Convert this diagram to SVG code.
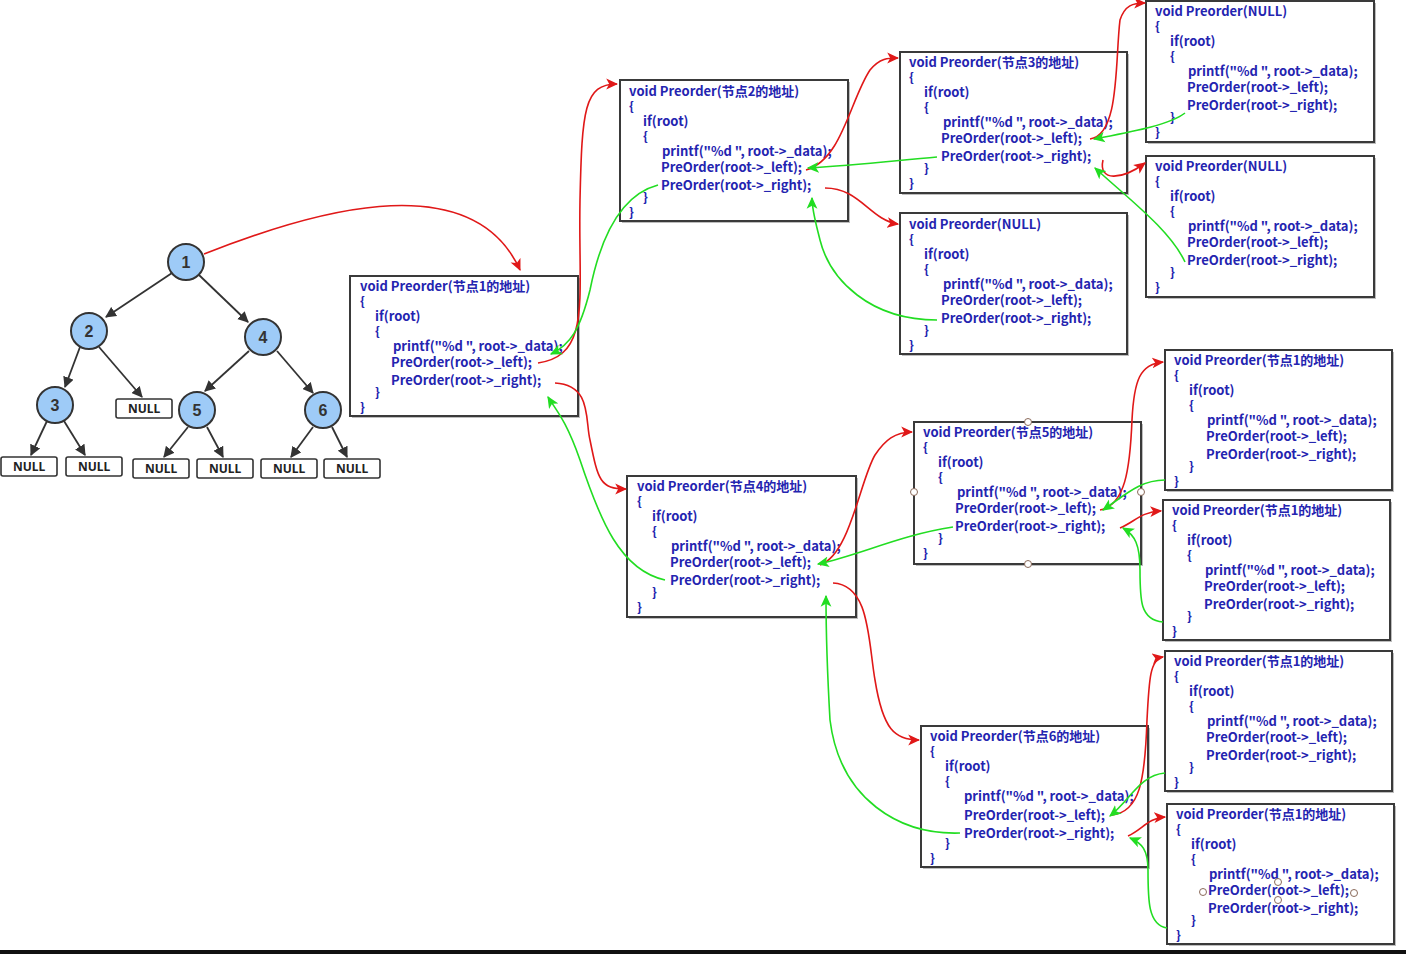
<svg xmlns="http://www.w3.org/2000/svg" width="1406" height="954" viewBox="0 0 1406 954">
<defs>
<style>
.box rect.b{fill:#fff;stroke:#3a3a3a;stroke-width:2}
.box rect.s{fill:#bdbdbd}
.box text{font-family:"Noto Sans CJK SC","Liberation Sans",sans-serif;font-size:13px;font-weight:bold;fill:#2424b0}
.tn circle{fill:#9ecbf7;stroke:#333;stroke-width:2}
.tn text{font-family:"Liberation Sans","Noto Sans",sans-serif;font-size:16px;font-weight:bold;fill:#333;text-anchor:middle}
.nl rect{fill:#fff;stroke:#333;stroke-width:1.6}
.nl text{font-family:"Noto Sans","Liberation Sans",sans-serif;font-size:12px;font-weight:bold;fill:#222;text-anchor:middle}
.te{stroke:#333;stroke-width:1.8;fill:none;marker-end:url(#ad)}
.r{stroke:#e01818;stroke-width:1.6;fill:none;marker-end:url(#ar)}
.g{stroke:#22dd22;stroke-width:1.6;fill:none;marker-end:url(#ag)}
.h{fill:#fff;stroke:#8a6a5a;stroke-width:1}
</style>
<marker id="ad" viewBox="0 0 10 10" refX="9" refY="5" markerWidth="11" markerHeight="11" markerUnits="userSpaceOnUse" orient="auto"><path d="M0,0 L10,5 L0,10 z" fill="#333"/></marker>
<marker id="ar" viewBox="0 0 10 10" refX="9" refY="5" markerWidth="12" markerHeight="12" markerUnits="userSpaceOnUse" orient="auto"><path d="M0,0.5 L10,5 L0,9.5 L2.5,5 z" fill="#e01818"/></marker>
<marker id="ag" viewBox="0 0 10 10" refX="9" refY="5" markerWidth="12" markerHeight="12" markerUnits="userSpaceOnUse" orient="auto"><path d="M0,0.5 L10,5 L0,9.5 L2.5,5 z" fill="#22dd22"/></marker>
</defs>
<rect width="1406" height="954" fill="#fff"/>

<!-- tree -->
<g id="tree-edges">
<line class="te" x1="172" y1="273" x2="106" y2="317"/>
<line class="te" x1="199" y1="275" x2="248" y2="322"/>
<line class="te" x1="80" y1="347" x2="65" y2="387"/>
<line class="te" x1="99" y1="347" x2="142" y2="397"/>
<line class="te" x1="249" y1="351" x2="205" y2="391"/>
<line class="te" x1="277" y1="351" x2="313" y2="393"/>
<line class="te" x1="47" y1="421" x2="31" y2="455"/>
<line class="te" x1="64" y1="421" x2="85" y2="455"/>
<line class="te" x1="188" y1="427" x2="164" y2="457"/>
<line class="te" x1="207" y1="427" x2="223" y2="457"/>
<line class="te" x1="313" y1="427" x2="291" y2="457"/>
<line class="te" x1="332" y1="427" x2="347" y2="457"/>
</g>
<g id="n1" class="tn"><circle cx="186" cy="262" r="18"/><text x="186" y="268">1</text></g>
<g id="n2" class="tn"><circle cx="89" cy="331" r="18"/><text x="89" y="337">2</text></g>
<g id="n4" class="tn"><circle cx="263" cy="337" r="18"/><text x="263" y="343">4</text></g>
<g id="n3" class="tn"><circle cx="55" cy="405" r="18"/><text x="55" y="411">3</text></g>
<g id="n5" class="tn"><circle cx="197" cy="410" r="18"/><text x="197" y="416">5</text></g>
<g id="n6" class="tn"><circle cx="323" cy="410" r="18"/><text x="323" y="416">6</text></g>
<g id="null2r" class="nl"><rect x="116" y="399" width="56" height="19" rx="2"/><text x="144" y="413">NULL</text></g>
<g id="null3l" class="nl"><rect x="1" y="457" width="56" height="19" rx="2"/><text x="29" y="471">NULL</text></g>
<g id="null3r" class="nl"><rect x="66" y="457" width="56" height="19" rx="2"/><text x="94" y="471">NULL</text></g>
<g id="null5l" class="nl"><rect x="133" y="459" width="56" height="19" rx="2"/><text x="161" y="473">NULL</text></g>
<g id="null5r" class="nl"><rect x="197" y="459" width="56" height="19" rx="2"/><text x="225" y="473">NULL</text></g>
<g id="null6l" class="nl"><rect x="261" y="459" width="56" height="19" rx="2"/><text x="289" y="473">NULL</text></g>
<g id="null6r" class="nl"><rect x="324" y="459" width="56" height="19" rx="2"/><text x="352" y="473">NULL</text></g>

<!-- code boxes -->
<g id="box1" class="box" transform="translate(350,276)">
<rect class="s" x="2" y="2" width="228" height="140"/><rect class="b" width="228" height="140"/>
<text x="10" y="15">void Preorder(节点1的地址)</text><text x="10" y="30">{</text><text x="25" y="45">if(root)</text><text x="25" y="60">{</text>
<text x="43" y="75">printf("%d ", root-&gt;_data);</text><text x="41" y="91">PreOrder(root-&gt;_left);</text><text x="41" y="109">PreOrder(root-&gt;_right);</text><text x="25" y="121">}</text><text x="10" y="136">}</text>
</g>
<g id="box2" class="box" transform="translate(620,80)">
<rect class="s" x="2" y="2" width="228" height="141"/><rect class="b" width="228" height="141"/>
<text x="9" y="16">void Preorder(节点2的地址)</text><text x="9" y="31">{</text><text x="23" y="46">if(root)</text><text x="23" y="61">{</text>
<text x="42" y="76">printf("%d ", root-&gt;_data);</text><text x="41" y="92">PreOrder(root-&gt;_left);</text><text x="41" y="110">PreOrder(root-&gt;_right);</text><text x="23" y="122">}</text><text x="9" y="137">}</text>
</g>
<g id="box3" class="box" transform="translate(900,52)">
<rect class="s" x="2" y="2" width="227" height="141"/><rect class="b" width="227" height="141"/>
<text x="9" y="15">void Preorder(节点3的地址)</text><text x="9" y="30">{</text><text x="24" y="45">if(root)</text><text x="24" y="60">{</text>
<text x="43" y="75">printf("%d ", root-&gt;_data);</text><text x="41" y="91">PreOrder(root-&gt;_left);</text><text x="41" y="109">PreOrder(root-&gt;_right);</text><text x="24" y="121">}</text><text x="9" y="136">}</text>
</g>
<g id="boxN1" class="box" transform="translate(1146,1)">
<rect class="s" x="2" y="2" width="228" height="141"/><rect class="b" width="228" height="141"/>
<text x="9" y="15">void Preorder(NULL)</text><text x="9" y="30">{</text><text x="24" y="45">if(root)</text><text x="24" y="60">{</text>
<text x="42" y="75">printf("%d ", root-&gt;_data);</text><text x="41" y="91">PreOrder(root-&gt;_left);</text><text x="41" y="109">PreOrder(root-&gt;_right);</text><text x="24" y="121">}</text><text x="9" y="136">}</text>
</g>
<g id="boxN2" class="box" transform="translate(1146,156)">
<rect class="s" x="2" y="2" width="228" height="141"/><rect class="b" width="228" height="141"/>
<text x="9" y="15">void Preorder(NULL)</text><text x="9" y="30">{</text><text x="24" y="45">if(root)</text><text x="24" y="60">{</text>
<text x="42" y="75">printf("%d ", root-&gt;_data);</text><text x="41" y="91">PreOrder(root-&gt;_left);</text><text x="41" y="109">PreOrder(root-&gt;_right);</text><text x="24" y="121">}</text><text x="9" y="136">}</text>
</g>
<g id="boxN3" class="box" transform="translate(900,213)">
<rect class="s" x="2" y="2" width="227" height="141"/><rect class="b" width="227" height="141"/>
<text x="9" y="16">void Preorder(NULL)</text><text x="9" y="31">{</text><text x="24" y="46">if(root)</text><text x="24" y="61">{</text>
<text x="43" y="76">printf("%d ", root-&gt;_data);</text><text x="41" y="92">PreOrder(root-&gt;_left);</text><text x="41" y="110">PreOrder(root-&gt;_right);</text><text x="24" y="122">}</text><text x="9" y="137">}</text>
</g>
<g id="box4" class="box" transform="translate(627,476)">
<rect class="s" x="2" y="2" width="229" height="141"/><rect class="b" width="229" height="141"/>
<text x="10" y="15">void Preorder(节点4的地址)</text><text x="10" y="30">{</text><text x="25" y="45">if(root)</text><text x="25" y="60">{</text>
<text x="44" y="75">printf("%d ", root-&gt;_data);</text><text x="43" y="91">PreOrder(root-&gt;_left);</text><text x="43" y="109">PreOrder(root-&gt;_right);</text><text x="25" y="121">}</text><text x="10" y="136">}</text>
</g>
<g id="box5" class="box" transform="translate(914,422)">
<rect class="s" x="2" y="2" width="227" height="142"/><rect class="b" width="227" height="142"/>
<text x="9" y="15">void Preorder(节点5的地址)</text><text x="9" y="30">{</text><text x="24" y="45">if(root)</text><text x="24" y="60">{</text>
<text x="43" y="75">printf("%d ", root-&gt;_data);</text><text x="41" y="91">PreOrder(root-&gt;_left);</text><text x="41" y="109">PreOrder(root-&gt;_right);</text><text x="24" y="121">}</text><text x="9" y="136">}</text>
</g>
<g id="box51" class="box" transform="translate(1165,350)">
<rect class="s" x="2" y="2" width="227" height="140"/><rect class="b" width="227" height="140"/>
<text x="9" y="15">void Preorder(节点1的地址)</text><text x="9" y="30">{</text><text x="24" y="45">if(root)</text><text x="24" y="60">{</text>
<text x="42" y="75">printf("%d ", root-&gt;_data);</text><text x="41" y="91">PreOrder(root-&gt;_left);</text><text x="41" y="109">PreOrder(root-&gt;_right);</text><text x="24" y="121">}</text><text x="9" y="136">}</text>
</g>
<g id="box52" class="box" transform="translate(1163,500)">
<rect class="s" x="2" y="2" width="227" height="140"/><rect class="b" width="227" height="140"/>
<text x="9" y="15">void Preorder(节点1的地址)</text><text x="9" y="30">{</text><text x="24" y="45">if(root)</text><text x="24" y="60">{</text>
<text x="42" y="75">printf("%d ", root-&gt;_data);</text><text x="41" y="91">PreOrder(root-&gt;_left);</text><text x="41" y="109">PreOrder(root-&gt;_right);</text><text x="24" y="121">}</text><text x="9" y="136">}</text>
</g>
<g id="box6" class="box" transform="translate(921,726)">
<rect class="s" x="2" y="2" width="227" height="141"/><rect class="b" width="227" height="141"/>
<text x="9" y="15">void Preorder(节点6的地址)</text><text x="9" y="30">{</text><text x="24" y="45">if(root)</text><text x="24" y="60">{</text>
<text x="43" y="75">printf("%d ", root-&gt;_data);</text><text x="43" y="94">PreOrder(root-&gt;_left);</text><text x="43" y="112">PreOrder(root-&gt;_right);</text><text x="24" y="122">}</text><text x="9" y="137">}</text>
</g>
<g id="box61" class="box" transform="translate(1165,651)">
<rect class="s" x="2" y="2" width="227" height="140"/><rect class="b" width="227" height="140"/>
<text x="9" y="15">void Preorder(节点1的地址)</text><text x="9" y="30">{</text><text x="24" y="45">if(root)</text><text x="24" y="60">{</text>
<text x="42" y="75">printf("%d ", root-&gt;_data);</text><text x="41" y="91">PreOrder(root-&gt;_left);</text><text x="41" y="109">PreOrder(root-&gt;_right);</text><text x="24" y="121">}</text><text x="9" y="136">}</text>
</g>
<g id="box62" class="box" transform="translate(1167,804)">
<rect class="s" x="2" y="2" width="227" height="140"/><rect class="b" width="227" height="140"/>
<text x="9" y="15">void Preorder(节点1的地址)</text><text x="9" y="30">{</text><text x="24" y="45">if(root)</text><text x="24" y="60">{</text>
<text x="42" y="75">printf("%d ", root-&gt;_data);</text><text x="41" y="91">PreOrder(root-&gt;_left);</text><text x="41" y="109">PreOrder(root-&gt;_right);</text><text x="24" y="121">}</text><text x="9" y="136">}</text>
</g>

<!-- connectors -->
<g id="connectors">
<path class="r" d="M204,254 C300,216 470,160 520,270"/>
<path class="r" d="M538,363 C592,355 578,300 580,200 C582,110 584,84 617,84"/>
<path class="r" d="M555,383 C592,385 585,420 590,440 C598,480 600,489 626,489"/>
<path class="r" d="M806,170 C842,160 850,100 870,70 C880,58 888,58 898,58"/>
<path class="r" d="M825,188 C860,188 870,220 898,224"/>
<path class="r" d="M1090,139 C1120,135 1115,60 1120,20 C1125,5 1133,3 1145,3"/>
<path class="r" d="M1103,160 C1098,182 1122,180 1145,163"/>
<path class="r" d="M820,565 C850,555 860,480 875,455 C885,440 895,432 912,432"/>
<path class="r" d="M833,583 C870,585 868,640 875,680 C883,730 895,740 919,740"/>
<path class="r" d="M1100,510 C1125,505 1130,470 1132,420 C1134,380 1140,364 1163,362"/>
<path class="r" d="M1120,528 C1135,522 1140,512 1161,511"/>
<path class="r" d="M1112,815 C1140,812 1145,780 1147,720 C1149,680 1150,659 1163,657"/>
<path class="r" d="M1128,836 C1142,830 1148,818 1165,817"/>

<path class="g" d="M658,185 C620,195 600,240 590,290 C580,330 570,345 551,354"/>
<path class="g" d="M665,580 C620,570 600,520 580,460 C566,420 556,410 548,397"/>
<path class="g" d="M937,157 C900,160 860,165 808,168"/>
<path class="g" d="M937,320 C870,320 830,280 820,240 C815,220 812,210 812,198"/>
<path class="g" d="M1185,113 C1170,125 1130,132 1094,139"/>
<path class="g" d="M1185,262 C1170,230 1130,200 1095,168"/>
<path class="g" d="M953,527 C900,535 860,555 818,564"/>
<path class="g" d="M960,833 C900,835 840,800 830,720 C826,650 826,620 826,596"/>
<path class="g" d="M1165,480 C1140,480 1125,495 1103,510"/>
<path class="g" d="M1163,622 C1140,620 1140,600 1140,570 C1140,545 1135,535 1123,528"/>
<path class="g" d="M1165,773 C1140,775 1130,800 1110,816"/>
<path class="g" d="M1167,928 C1148,925 1148,900 1148,870 C1148,850 1142,843 1130,838"/>
</g>

<g id="handles">
<circle class="h" cx="1028" cy="422" r="3.5"/><circle class="h" cx="914" cy="492" r="3.5"/><circle class="h" cx="1141" cy="492" r="3.5"/><circle class="h" cx="1028" cy="564" r="3.5"/>
<circle class="h" cx="1278" cy="882" r="3.5"/><circle class="h" cx="1203" cy="892" r="3.5"/><circle class="h" cx="1354" cy="893" r="3.5"/><circle class="h" cx="1278" cy="900" r="3.5"/>
</g>
<rect x="0" y="950" width="1406" height="4" fill="#111"/>
</svg>
